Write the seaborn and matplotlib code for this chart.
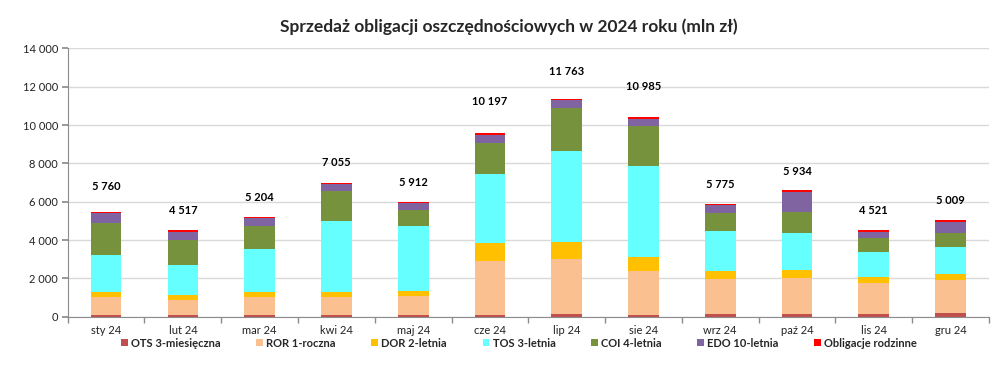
import numpy as np
import pandas as pd
import matplotlib
matplotlib.use("Agg")
import matplotlib.pyplot as plt
from matplotlib.patches import Patch
import seaborn as sns

months = ["sty 24", "lut 24", "mar 24", "kwi 24", "maj 24", "cze 24",
          "lip 24", "sie 24", "wrz 24", "paź 24", "lis 24", "gru 24"]

ots = [100, 100, 100, 100, 100, 100, 120, 100, 120, 140, 155, 170]
ror = [935, 795, 935, 935, 975, 2820, 2890, 2270, 1865, 1880, 1625, 1765]
dor = [245, 245, 245, 260, 275, 935, 915, 740, 415, 430, 280, 295]
tos = [1935, 1555, 2280, 3715, 3385, 3575, 4720, 4735, 2075, 1940, 1325, 1385]
coi = [1675, 1330, 1195, 1570, 815, 1645, 2230, 2095, 935, 1050, 725, 780]
edo = [520, 415, 415, 350, 380, 430, 415, 395, 435, 1075, 330, 570]
rodzinne = [60, 60, 60, 60, 60, 90, 75, 80, 60, 75, 75, 90]

totals = [5760, 4517, 5204, 7055, 5912, 10197, 11763, 10985, 5775, 5934, 4521, 5009]

series_names = ["OTS 3-miesięczna", "ROR 1-roczna", "DOR 2-letnia", "TOS 3-letnia",
                "COI 4-letnia", "EDO 10-letnia", "Obligacje rodzinne"]
series_values = [ots, ror, dor, tos, coi, edo, rodzinne]
colors = ["#c0504d", "#fac090", "#ffc000", "#66ffff", "#76923c", "#8064a2", "#ff0000"]

df = pd.DataFrame(dict(zip(series_names, series_values)), index=months)
cum = df.cumsum(axis=1)

sns.set_theme(style="white")
plt.rcParams["font.family"] = ["Lato", "DejaVu Sans"]

fig = plt.figure(figsize=(10.08, 3.67), dpi=100)
ax = fig.add_axes([0.0672, 0.137, 0.9138, 0.731])

# stacked bars: draw cumulative sums from the top layer down
for name, col in reversed(list(zip(series_names, colors))):
    sns.barplot(x=months, y=cum[name].values, color=col, saturation=1,
                width=0.4, ax=ax, linewidth=0)

for i, t in enumerate(totals):
    anchor = max(t, cum.iloc[i, -1])
    ax.annotate(f"{t:,}".replace(",", " "), (i, anchor), xytext=(0, 10),
                textcoords="offset points", ha="center", va="bottom",
                fontsize=8, fontweight="bold", color="black")

ax.set_ylim(0, 14000)
ax.set_xlim(-0.5, len(months) - 0.5)
ax.set_yticks(np.arange(0, 14001, 2000))
ax.set_yticklabels([f"{v:,}".replace(",", " ") for v in range(0, 14001, 2000)])
ax.yaxis.grid(True, color="#d9d9d9", linewidth=1)
ax.set_axisbelow(True)
ax.set_xlabel("")
ax.set_ylabel("")

for s in ["top", "right"]:
    ax.spines[s].set_visible(False)
for s in ["left", "bottom"]:
    ax.spines[s].set_color("#8c8c8c")
    ax.spines[s].set_linewidth(0.8)

ax.tick_params(axis="y", which="major", left=True, length=4, color="#8c8c8c",
               labelsize=8, pad=3, labelcolor="#222222")
ax.tick_params(axis="x", which="major", length=0, labelsize=8, pad=6,
               labelcolor="#222222")
ax.set_xticks(np.arange(-0.5, len(months)), minor=True)
ax.tick_params(axis="x", which="minor", bottom=True, length=4, color="#8c8c8c")

handles = [Patch(facecolor=c, edgecolor="none", label=n)
           for n, c in zip(series_names, colors)]
fig.legend(handles=handles, loc="center", bbox_to_anchor=(0.515, 0.065), ncol=7,
           frameon=False, handlelength=0.6, handleheight=0.6,
           handletextpad=0.3, columnspacing=3.2,
           prop={"weight": "bold", "size": 8})

fig.suptitle("Sprzedaż obligacji oszczędnościowych w 2024 roku (mln zł)",
             x=0.505, y=0.95, fontsize=12.5, fontweight="bold")

fig.savefig("out.png", dpi=100)
